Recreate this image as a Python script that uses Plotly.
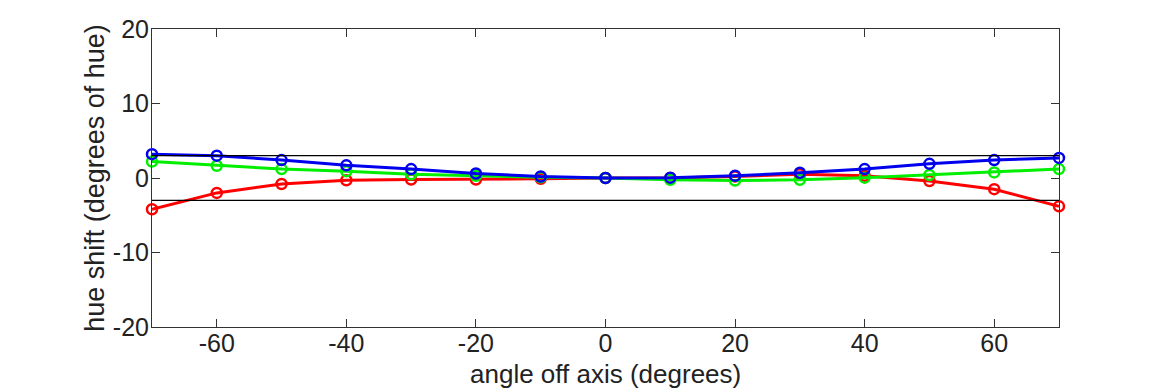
import plotly.graph_objects as go

angles = [-70, -60, -50, -40, -30, -20, -10, 0, 10, 20, 30, 40, 50, 60, 70]
red = [-4.2, -2.0, -0.8, -0.3, -0.2, -0.2, -0.1, 0.0, 0.0, 0.2, 0.5, 0.3, -0.4, -1.5, -3.8]
green = [2.2, 1.65, 1.2, 0.9, 0.5, 0.3, 0.1, 0.0, -0.25, -0.35, -0.25, 0.05, 0.4, 0.75, 1.2]
blue = [3.2, 3.0, 2.4, 1.7, 1.2, 0.6, 0.2, 0.0, 0.05, 0.3, 0.7, 1.2, 1.9, 2.4, 2.7]
limit = 3

x_ticks = [-60, -40, -20, 0, 20, 40, 60]
x_labels = ["-60", "-40", "-20", "0", "20", "40", "60"]
y_ticks = [-20, -10, 0, 10, 20]
y_labels = ["-20", "-10", "0", "10", "20"]
x_title = "angle off axis (degrees)"
y_title = "hue shift (degrees of hue)"

fig = go.Figure()
for vals, col in [(red, "#ff0000"), (green, "#00ee00"), (blue, "#0000ee")]:
    fig.add_trace(go.Scatter(
        x=angles, y=vals, mode="lines+markers",
        line=dict(color=col, width=3),
        marker=dict(symbol="circle-open", size=10, color=col, line=dict(width=2.5)),
        showlegend=False, cliponaxis=False,
    ))

for v in (limit, -limit):
    fig.add_trace(go.Scatter(x=[-70, 70], y=[v, v], mode="lines",
                             line=dict(color="black", width=1.2), showlegend=False))

font_fam = "Liberation Sans, Arial, sans-serif"
fig.update_layout(
    width=1170, height=390,
    margin=dict(l=144, r=119, t=21, b=71),
    paper_bgcolor="white", plot_bgcolor="white",
    font=dict(family=font_fam, size=25, color="#222"),
)
fig.add_annotation(
    text=x_title, xref="paper", yref="paper", x=0.5, y=0,
    xanchor="center", yanchor="bottom", yshift=-63, showarrow=False,
    font=dict(size=26, color="#222"), borderpad=0,
)
fig.update_xaxes(
    range=[-70, 70], tickvals=x_ticks, ticktext=x_labels, ticks="inside", ticklen=8, tickcolor="#333",
    showline=True, linecolor="#333", linewidth=1, mirror="ticks", showgrid=False, zeroline=False,
    automargin=False, ticklabelstandoff=-6,
)
fig.update_yaxes(
    range=[-20, 20], tickvals=y_ticks, ticktext=y_labels, ticks="inside", ticklen=8, tickcolor="#333",
    showline=True, linecolor="#333", linewidth=1, mirror="ticks", showgrid=False, zeroline=False,
    automargin=False, ticklabelstandoff=-3,
    title=dict(text=y_title, standoff=0, font=dict(size=27)),
)
fig.write_html("out.html")
